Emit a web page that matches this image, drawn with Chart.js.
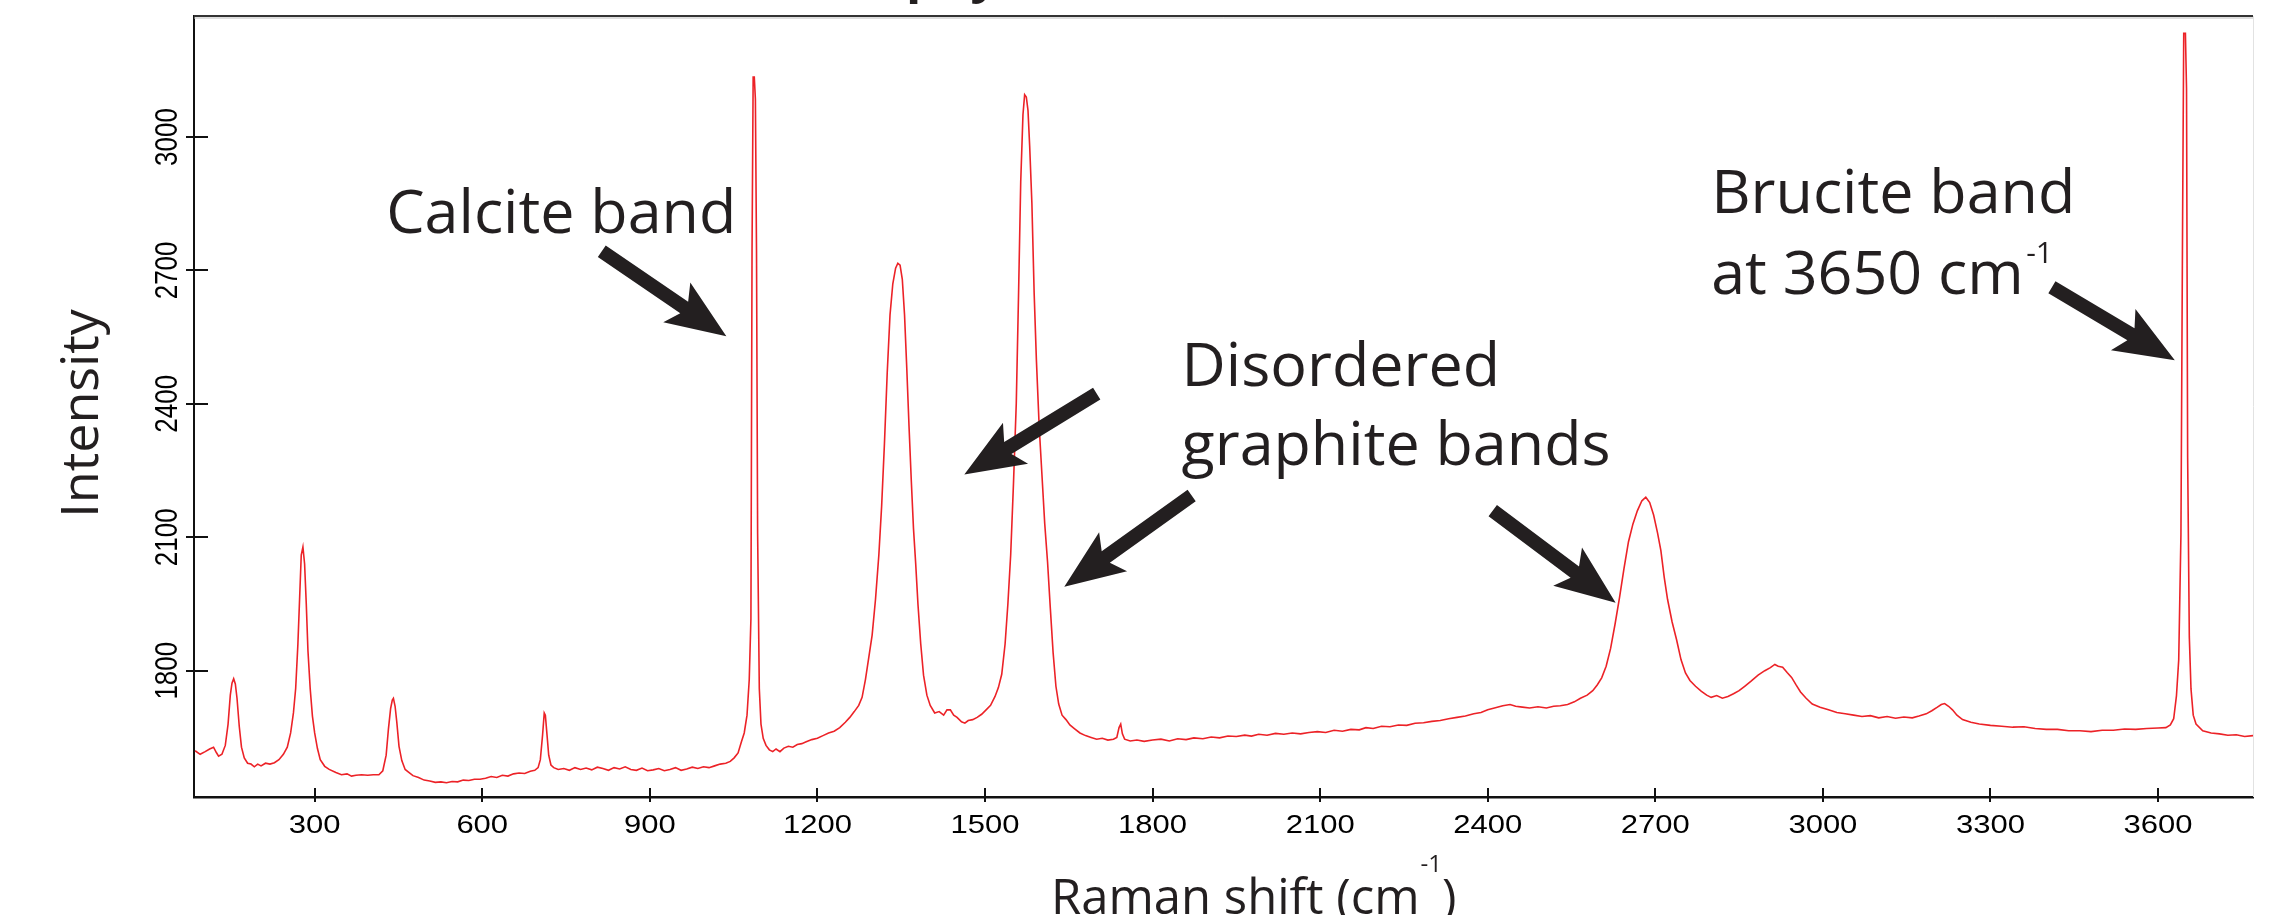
<!DOCTYPE html>
<html>
<head>
<meta charset="utf-8">
<script src="https://cdn.jsdelivr.net/npm/chart.js@4"></script>
<style>
  html, body { margin: 0; padding: 0; background: #fff; }
  #wrap { width: 2290px; height: 915px; position: relative; }
</style>
</head>
<body>
<div id="wrap"><canvas id="raman"></canvas></div>
<script>
// Raman shift (cm-1) and intensity
const shiftX = [
  86, 95, 104, 112, 119, 124, 128, 134, 140, 145, 149, 152, 155, 158, 161, 165, 169, 174, 180, 186,
  192, 198, 204, 212, 220, 228, 236, 244, 251, 257, 262, 266, 270, 273, 276, 279, 282, 285, 288, 292,
  296, 300, 305, 310, 318, 326, 338, 348, 358, 366, 374, 384, 395, 405, 415, 422, 428, 432, 436, 439,
  441, 444, 447, 451, 456, 462, 468, 476, 486, 496, 506, 516, 526, 536, 546, 556, 566, 576, 586, 596,
  606, 616, 626, 636, 646, 656, 666, 676, 686, 694, 700, 704, 708, 711, 713, 716, 719, 723, 728, 736,
  746, 756, 766, 776, 786, 796, 806, 816, 826, 836, 846, 856, 866, 876, 886, 896, 906, 916, 926, 936,
  946, 956, 966, 976, 986, 996, 1006, 1016, 1026, 1036, 1044, 1051, 1058, 1064, 1069, 1074, 1078, 1081, 1083, 1085,
  1087, 1089, 1091, 1093, 1096, 1099, 1103, 1108, 1114, 1120, 1126, 1133, 1140, 1148, 1156, 1164, 1172, 1180, 1190, 1200,
  1210, 1220, 1230, 1240, 1250, 1258, 1266, 1274, 1280, 1286, 1292, 1298, 1304, 1310, 1315, 1320, 1325, 1330, 1335, 1340,
  1344, 1348, 1352, 1356, 1360, 1364, 1368, 1372, 1376, 1380, 1385, 1390, 1396, 1402, 1410, 1418, 1426, 1432, 1438, 1444,
  1450, 1458, 1464, 1470, 1478, 1486, 1494, 1502, 1510, 1518, 1524, 1530, 1536, 1541, 1546, 1551, 1556, 1560, 1564, 1568,
  1571, 1574, 1577, 1580, 1584, 1588, 1592, 1597, 1602, 1607, 1612, 1617, 1622, 1627, 1632, 1638, 1645, 1652, 1660, 1670,
  1680, 1690, 1700, 1710, 1720, 1730, 1736, 1740, 1743, 1746, 1750, 1760, 1772, 1785, 1800, 1815, 1830, 1845, 1860, 1874,
  1890, 1905, 1920, 1935, 1950, 1965, 1977, 1990, 2005, 2020, 2035, 2050, 2065, 2080, 2095, 2110, 2125, 2140, 2155, 2170,
  2182, 2195, 2210, 2225, 2240, 2255, 2270, 2285, 2300, 2315, 2330, 2345, 2360, 2375, 2388, 2400, 2412, 2427, 2440, 2450,
  2462, 2475, 2490, 2505, 2518, 2530, 2543, 2555, 2566, 2578, 2588, 2596, 2604, 2612, 2620, 2628, 2636, 2644, 2652, 2660,
  2668, 2676, 2683, 2690, 2697, 2704, 2710, 2716, 2722, 2730, 2738, 2746, 2754, 2762, 2772, 2782, 2792, 2800, 2810, 2820,
  2830, 2840, 2850, 2860, 2872, 2884, 2896, 2906, 2914, 2920, 2928, 2936, 2944, 2952, 2960, 2970, 2981, 2995, 3010, 3025,
  3040, 3055, 3070, 3085, 3100, 3115, 3130, 3145, 3160, 3172, 3185, 3195, 3205, 3212, 3218, 3225, 3232, 3240, 3250, 3265,
  3280, 3300, 3320, 3340, 3360, 3380, 3400, 3420, 3440, 3460, 3480, 3500, 3520, 3540, 3560, 3580, 3600, 3614, 3622, 3628,
  3633, 3637, 3641, 3644, 3646, 3649, 3651, 3653, 3656, 3659, 3663, 3668, 3680, 3695, 3710, 3725, 3740, 3755, 3770
];
const intensity = [
  1620, 1612, 1618, 1624, 1628, 1616, 1608, 1612, 1632, 1680, 1745, 1772, 1782, 1770, 1738, 1675, 1628, 1604, 1592, 1590,
  1584, 1590, 1586, 1592, 1590, 1593, 1600, 1612, 1628, 1660, 1705, 1760, 1860, 1960, 2060, 2078, 2040, 1950, 1845, 1760,
  1698, 1660, 1625, 1600, 1585, 1578, 1571, 1566, 1568, 1563, 1565, 1566, 1565, 1566, 1566, 1575, 1610, 1668, 1715, 1734,
  1738, 1720, 1685, 1630, 1598, 1578, 1572, 1564, 1560, 1554, 1552, 1549, 1550, 1548, 1551, 1550, 1554, 1553, 1556, 1556,
  1558, 1562, 1560, 1565, 1563, 1568, 1570, 1569, 1574, 1576, 1582, 1600, 1655, 1705, 1700, 1655, 1610, 1588, 1582, 1578,
  1580, 1576, 1582, 1578, 1581, 1577, 1583, 1580, 1576, 1582, 1579, 1584, 1578, 1576, 1581, 1575, 1577, 1580, 1575, 1578,
  1582, 1576, 1579, 1583, 1580, 1584, 1582, 1586, 1590, 1592, 1596, 1604, 1615, 1640, 1660, 1700, 1780, 1917, 2745, 3135,
  3135, 3085, 2745, 2108, 1760, 1680, 1648, 1632, 1622, 1618, 1624, 1618, 1626, 1630, 1628, 1634, 1636, 1640, 1645, 1648,
  1654, 1660, 1664, 1672, 1684, 1695, 1708, 1722, 1740, 1780, 1830, 1880, 1960, 2060, 2170, 2310, 2470, 2600, 2670, 2705,
  2716, 2712, 2680, 2600, 2480, 2350, 2230, 2120, 2040, 1950, 1860, 1790, 1745, 1722, 1705, 1708, 1700, 1712, 1712, 1700,
  1695, 1685, 1682, 1688, 1690, 1695, 1702, 1712, 1722, 1742, 1762, 1792, 1860, 1950, 2060, 2220, 2400, 2640, 2900, 3050,
  3095, 3090, 3060, 2980, 2850, 2650, 2500, 2350, 2240, 2130, 2045, 1940, 1840, 1765, 1725, 1700, 1690, 1678, 1670, 1660,
  1654, 1650, 1646, 1648, 1644, 1646, 1650, 1672, 1680, 1658, 1646, 1642, 1644, 1641, 1644, 1646, 1642, 1647, 1645, 1649,
  1647, 1651, 1649, 1653, 1652, 1655, 1653, 1657, 1655, 1659, 1657, 1660, 1658, 1661, 1663, 1661, 1666, 1664, 1668, 1667,
  1672, 1670, 1675, 1674, 1678, 1677, 1682, 1683, 1686, 1688, 1692, 1695, 1698, 1703, 1706, 1712, 1716, 1721, 1724, 1720,
  1718, 1716, 1719, 1716, 1720, 1721, 1724, 1730, 1738, 1745, 1755, 1768, 1784, 1810, 1850, 1905, 1965, 2030, 2090, 2130,
  2160, 2182, 2190, 2178, 2150, 2110, 2070, 2010, 1960, 1910, 1870, 1825, 1795, 1778, 1765, 1754, 1745, 1740, 1744, 1738,
  1742, 1748, 1755, 1765, 1777, 1790, 1800, 1807, 1814, 1810, 1808, 1796, 1785, 1768, 1752, 1738, 1725, 1718, 1712, 1706,
  1703, 1700, 1697, 1699, 1694, 1697, 1693, 1696, 1694, 1698, 1703, 1710, 1718, 1724, 1726, 1720, 1712, 1700, 1690, 1684,
  1680, 1677, 1675, 1673, 1674, 1670, 1668, 1668, 1665, 1665, 1663, 1666, 1666, 1669, 1668, 1670, 1671, 1672, 1678, 1692,
  1744, 1824, 2106, 2821, 3233, 3233, 3109, 2280, 1876, 1759, 1700, 1680, 1665, 1660, 1658, 1655, 1656, 1652, 1654
];

// axis ticks
const xTicks = [300, 600, 900, 1200, 1500, 1800, 2100, 2400, 2700, 3000, 3300, 3600];
const yTicks = [1800, 2100, 2400, 2700, 3000];

// annotation text, anchored in data units (left edge, baseline)
const noteText = ["Calcite band", "Disordered", "graphite bands", "Brucite band", "at 3650 cm"];
const noteX = [428, 1852, 1852, 2800, 2800];
const noteY = [2783, 2441, 2263, 2828, 2648];

// arrows, tail -> tip, data units
const arrowFromX = [814, 1700, 1870, 2409, 3410];
const arrowFromY = [2743, 2423, 2194, 2160, 2662];
const arrowToX = [1037, 1463, 1642, 2629, 3630];
const arrowToY = [2552, 2241, 1989, 1953, 2498];

const INK = "#231f20";
const NOTE_FONT = "61px 'Open Sans', 'Noto Sans', sans-serif";

/**
 * 太い矢印を描きます。
 */
const drawArrow = (ctx, x1, y1, x2, y2) => {
  const len = Math.hypot(x2 - x1, y2 - y1);
  const ux = (x2 - x1) / len;
  const uy = (y2 - y1) / len;
  const nx = -uy;
  const ny = ux;
  const headLen = 60;
  const headHalf = 24;
  const notch = 9;
  const shaft = 7;
  const bx = x2 - ux * headLen;
  const by = y2 - uy * headLen;
  const kx = bx + ux * notch;
  const ky = by + uy * notch;
  ctx.beginPath();
  ctx.moveTo(x1 + nx * shaft, y1 + ny * shaft);
  ctx.lineTo(kx + nx * shaft, ky + ny * shaft);
  ctx.lineTo(bx + nx * headHalf, by + ny * headHalf);
  ctx.lineTo(x2, y2);
  ctx.lineTo(bx - nx * headHalf, by - ny * headHalf);
  ctx.lineTo(kx - nx * shaft, ky - ny * shaft);
  ctx.lineTo(x1 - nx * shaft, y1 - ny * shaft);
  ctx.closePath();
  ctx.fill();
};

const decorations = {
  id: "decorations",
  afterDraw(chart) {
    const ctx = chart.ctx;
    const area = chart.chartArea;
    const xs = chart.scales.x;
    const ys = chart.scales.y;

    ctx.save();
    // frame top / right
    ctx.strokeStyle = "#bdbdbd";
    ctx.lineWidth = 1;
    ctx.beginPath();
    ctx.moveTo(area.left, area.top + 2);
    ctx.lineTo(area.right, area.top + 2);
    ctx.stroke();
    ctx.strokeStyle = "#e2e2e2";
    ctx.beginPath();
    ctx.moveTo(area.right + 0.5, area.top);
    ctx.lineTo(area.right + 0.5, area.bottom);
    ctx.stroke();
    ctx.strokeStyle = "#333";
    ctx.lineWidth = 2;
    ctx.beginPath();
    ctx.moveTo(area.left, area.top);
    ctx.lineTo(area.right, area.top);
    ctx.stroke();

    // tick marks cross the axes
    ctx.strokeStyle = "#111";
    ctx.lineWidth = 2;
    xTicks.forEach((v) => {
      const px = Math.round(xs.getPixelForValue(v));
      ctx.beginPath();
      ctx.moveTo(px, area.bottom - 9);
      ctx.lineTo(px, area.bottom + 5);
      ctx.stroke();
    });
    yTicks.forEach((v) => {
      const py = Math.round(ys.getPixelForValue(v));
      ctx.beginPath();
      ctx.moveTo(area.left - 8, py);
      ctx.lineTo(area.left + 14, py);
      ctx.stroke();
    });

    // tick labels (the source image is stretched sideways)
    ctx.fillStyle = "#000";
    ctx.font = "25px 'Liberation Sans', Arial, sans-serif";
    ctx.textAlign = "center";
    ctx.textBaseline = "alphabetic";
    xTicks.forEach((v) => {
      ctx.save();
      ctx.translate(xs.getPixelForValue(v), area.bottom + 36);
      ctx.scale(1.24, 1);
      ctx.fillText(String(v), 0, 0);
      ctx.restore();
    });
    ctx.font = "26px 'Liberation Sans', Arial, sans-serif";
    yTicks.forEach((v) => {
      ctx.save();
      ctx.translate(177, ys.getPixelForValue(v));
      ctx.rotate(-Math.PI / 2);
      ctx.scale(1, 1.24);
      ctx.fillText(String(v), 0, 0);
      ctx.restore();
    });

    // axis titles
    ctx.fillStyle = INK;
    ctx.save();
    ctx.translate(98, (area.top + area.bottom) / 2 + 7);
    ctx.rotate(-Math.PI / 2);
    ctx.font = "52px 'Open Sans', 'Noto Sans', sans-serif";
    ctx.textAlign = "center";
    ctx.fillText("Intensity", 0, 0);
    ctx.restore();

    ctx.textAlign = "left";
    ctx.font = "49px 'Open Sans', 'Noto Sans', sans-serif";
    const xt = "Raman shift (cm";
    let tx = 1051;
    ctx.fillText(xt, tx, 914);
    tx += ctx.measureText(xt).width + 1;
    ctx.font = "24px 'Open Sans', 'Noto Sans', sans-serif";
    ctx.fillText("-1", tx, 872);
    tx += ctx.measureText("-1").width;
    ctx.font = "49px 'Open Sans', 'Noto Sans', sans-serif";
    ctx.fillText(")", tx, 914);

    // cut-off title above the plot
    ctx.font = "bold 50px 'Open Sans', 'Noto Sans', sans-serif";
    ctx.fillText("phy", 906, -8);

    // notes
    ctx.font = NOTE_FONT;
    noteText.forEach((t, i) => {
      ctx.fillText(t, xs.getPixelForValue(noteX[i]), ys.getPixelForValue(noteY[i]));
    });
    ctx.font = "30px 'Open Sans', 'Noto Sans', sans-serif";
    ctx.fillText("-1", xs.getPixelForValue(3364), ys.getPixelForValue(2716));

    arrowFromX.forEach((v, i) => {
      drawArrow(
        ctx,
        xs.getPixelForValue(v),
        ys.getPixelForValue(arrowFromY[i]),
        xs.getPixelForValue(arrowToX[i]),
        ys.getPixelForValue(arrowToY[i])
      );
    });
    ctx.restore();
  },
};

const ctx = document.getElementById("raman").getContext("2d");
const ramanChart = new Chart(ctx, {
  type: "line",
  data: {
    datasets: [
      {
        data: shiftX.map((x, i) => ({ x: x, y: intensity[i] })),
        borderColor: "rgb(236, 34, 39)",
        borderWidth: 1.6,
        pointRadius: 0,
        tension: 0,
        fill: false,
      },
    ],
  },
  options: {
    responsive: true,
    maintainAspectRatio: false,
    animation: false,
    layout: {
      padding: { top: 16, right: 37, left: 0, bottom: 0 },
    },
    plugins: {
      legend: { display: false },
      tooltip: { enabled: false },
    },
    scales: {
      x: {
        type: "linear",
        min: 84,
        max: 3770,
        afterBuildTicks: (scale) => {
          scale.ticks = xTicks.map((v) => ({ value: v }));
        },
        afterFit: (scale) => {
          scale.height = 118;
        },
        ticks: { display: false },
        grid: { display: false, drawTicks: false },
        border: { display: true, color: "#111", width: 2.5 },
      },
      y: {
        type: "linear",
        min: 1516,
        max: 3272,
        afterBuildTicks: (scale) => {
          scale.ticks = yTicks.map((v) => ({ value: v }));
        },
        afterFit: (scale) => {
          scale.width = 194;
        },
        ticks: { display: false },
        grid: { display: false, drawTicks: false },
        border: { display: true, color: "#111", width: 2 },
      },
    },
  },
  plugins: [decorations],
});
</script>
</body>
</html>
